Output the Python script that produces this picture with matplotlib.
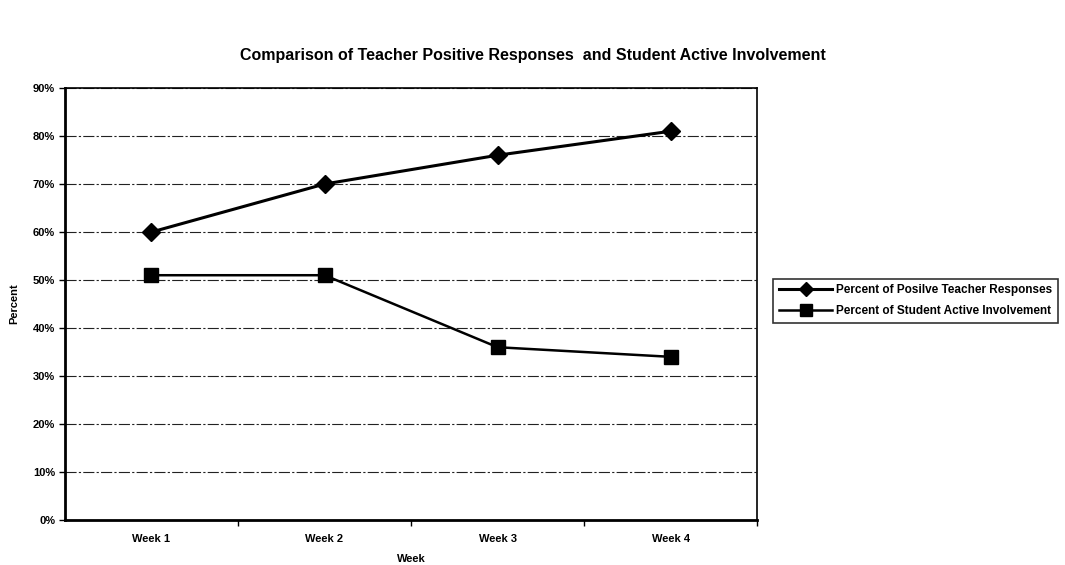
import matplotlib.pyplot as plt
import numpy as np
from matplotlib.ticker import PercentFormatter, FixedLocator

plt.rcParams['font.family'] = ['Liberation Sans', 'DejaVu Sans']

weeks = ['Week 1', 'Week 2', 'Week 3', 'Week 4']
teacher = [60, 70, 76, 81]
student = [51, 51, 36, 34]

fig = plt.figure(figsize=(10.65, 5.65), dpi=100)
ax = fig.add_axes([0.061, 0.0796, 0.650, 0.7646])

x = np.arange(len(weeks))
ax.plot(x, teacher, color='black', lw=2.2, marker='D', ms=9,
        label='Percent of Posilve Teacher Responses')
ax.plot(x, student, color='black', lw=1.8, marker='s', ms=10,
        label='Percent of Student Active Involvement')

ax.set_xlim(-0.5, 3.5)
ax.set_ylim(0, 90)
ax.set_yticks(range(0, 91, 10))
ax.yaxis.set_major_formatter(PercentFormatter(decimals=0))
ax.set_xticks(x)
ax.set_xticklabels(weeks)
ax.xaxis.set_minor_locator(FixedLocator([0.5, 1.5, 2.5, 3.5]))
ax.tick_params(axis='x', which='major', length=0, pad=10)
ax.tick_params(axis='x', which='minor', length=4, direction='out', width=1)
ax.tick_params(axis='y', length=4, direction='out', width=1, pad=3)
for lab in ax.get_xticklabels() + ax.get_yticklabels():
    lab.set_fontsize(8)
    lab.set_fontweight('bold')

ax.grid(axis='y', color='#222222', lw=0.8, linestyle=(0, (10, 2, 2, 2)))
ax.set_axisbelow(True)
ax.spines['left'].set_linewidth(2)
ax.spines['bottom'].set_linewidth(2)
ax.spines['right'].set_linewidth(1.2)
ax.spines['top'].set_linewidth(1.2)

ax.set_ylabel('Percent', fontsize=8, fontweight='bold', labelpad=10)
ax.set_xlabel('Week', fontsize=8, fontweight='bold', labelpad=7)

fig.suptitle('Comparison of Teacher Positive Responses  and Student Active Involvement',
             x=0.5, y=0.915, fontsize=11.5, fontweight='bold')

leg = fig.legend(loc='upper left', bbox_to_anchor=(0.726, 0.507),
                 prop={'weight': 'bold', 'size': 8.5}, frameon=True, fancybox=False,
                 edgecolor='black', markerscale=0.8, handlelength=4.5, borderpad=0.5,
                 labelspacing=0.7, handletextpad=0.3, borderaxespad=0)
leg.get_frame().set_linewidth(1.2)

fig.savefig('out.png', dpi=100)
